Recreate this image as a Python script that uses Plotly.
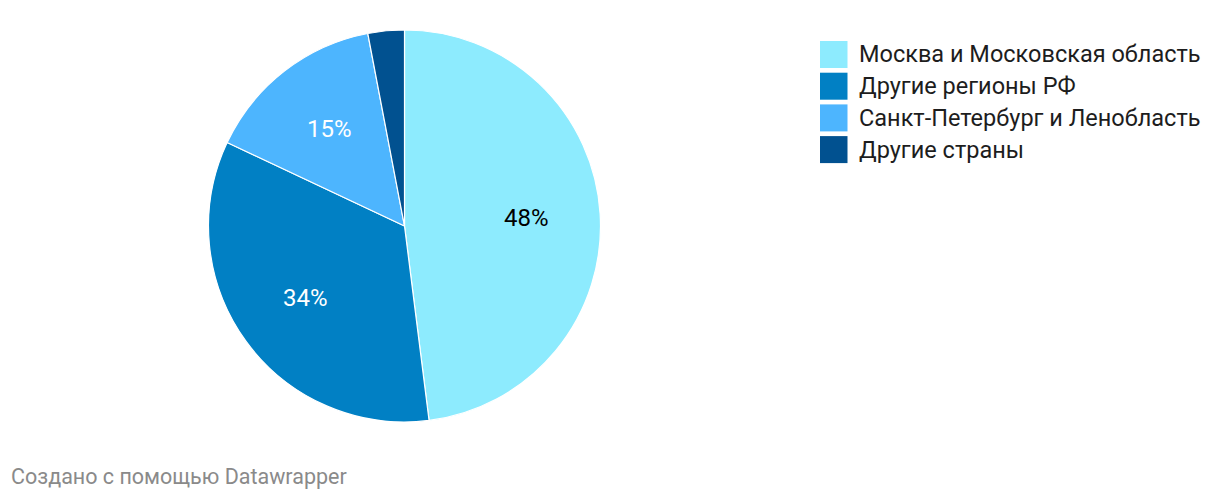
import math
import plotly.graph_objects as go

categories = ["Москва и Московская область", "Другие регионы РФ",
              "Санкт-Петербург и Ленобласть", "Другие страны"]
values = [48, 34, 15, 3]
colors = ["#8DEBFE", "#0180C4", "#4DB5FE", "#015190"]
label_colors = ["#000000", "#ffffff", "#ffffff", "#ffffff"]

W, H = 1220, 500
OFF = 8  # page body margin around the plot div


def px(x):
    return (x - OFF) / W


def py(y):
    return 1 - (y - OFF) / H


cx, cy, r = 404.5, 226, 196

fig = go.Figure(go.Pie(
    labels=categories, values=values, sort=False, direction="clockwise", rotation=0,
    marker=dict(colors=colors, line=dict(color="#ffffff", width=1.2)),
    textinfo="none",
    hoverinfo="label+percent", showlegend=False,
    domain=dict(x=[px(cx - r), px(cx + r)], y=[py(cy + r), py(cy - r)]),
))

shapes, annotations = [], []

# slice labels placed at each slice's mid-angle, ~0.625 of the radius
total = sum(values)
cum = 0.0
for v, lc in zip(values, label_colors):
    mid = (cum + v / 2) / total * 2 * math.pi
    cum += v
    if v / total < 0.1:
        continue
    lx = cx + 0.625 * r * math.sin(mid)
    ly = cy - 0.625 * r * math.cos(mid)
    annotations.append(dict(xref="paper", yref="paper", x=px(lx), y=py(ly),
                            xanchor="center", yanchor="middle", showarrow=False,
                            text=f"{round(v / total * 100)}%",
                            font=dict(family="Roboto", size=24, color=lc)))

x0, y_top, sq_w, sq_h, step = 820, 41, 27.5, 27, 31.7
for i, (cat, col) in enumerate(zip(categories, colors)):
    yt = y_top + i * step
    shapes.append(dict(type="rect", xref="paper", yref="paper",
                       x0=px(x0), x1=px(x0 + sq_w),
                       y0=py(yt + sq_h), y1=py(yt),
                       fillcolor=col, line=dict(width=0)))
    annotations.append(dict(xref="paper", yref="paper", x=px(857), y=py(yt + sq_h / 2),
                            xanchor="left", yanchor="middle", showarrow=False, text=cat,
                            font=dict(family="Roboto", size=23.5, color="#1d1d1d")))

annotations.append(dict(xref="paper", yref="paper", x=px(9), y=py(476),
                        xanchor="left", yanchor="middle", showarrow=False,
                        text="Создано с помощью Datawrapper",
                        font=dict(family="Roboto", size=21.5, color="#8a8a8a")))

fig.update_layout(width=W, height=H, margin=dict(l=0, r=0, t=0, b=0),
                  paper_bgcolor="#ffffff", plot_bgcolor="#ffffff",
                  shapes=shapes, annotations=annotations)

fig.write_html("out.html")
